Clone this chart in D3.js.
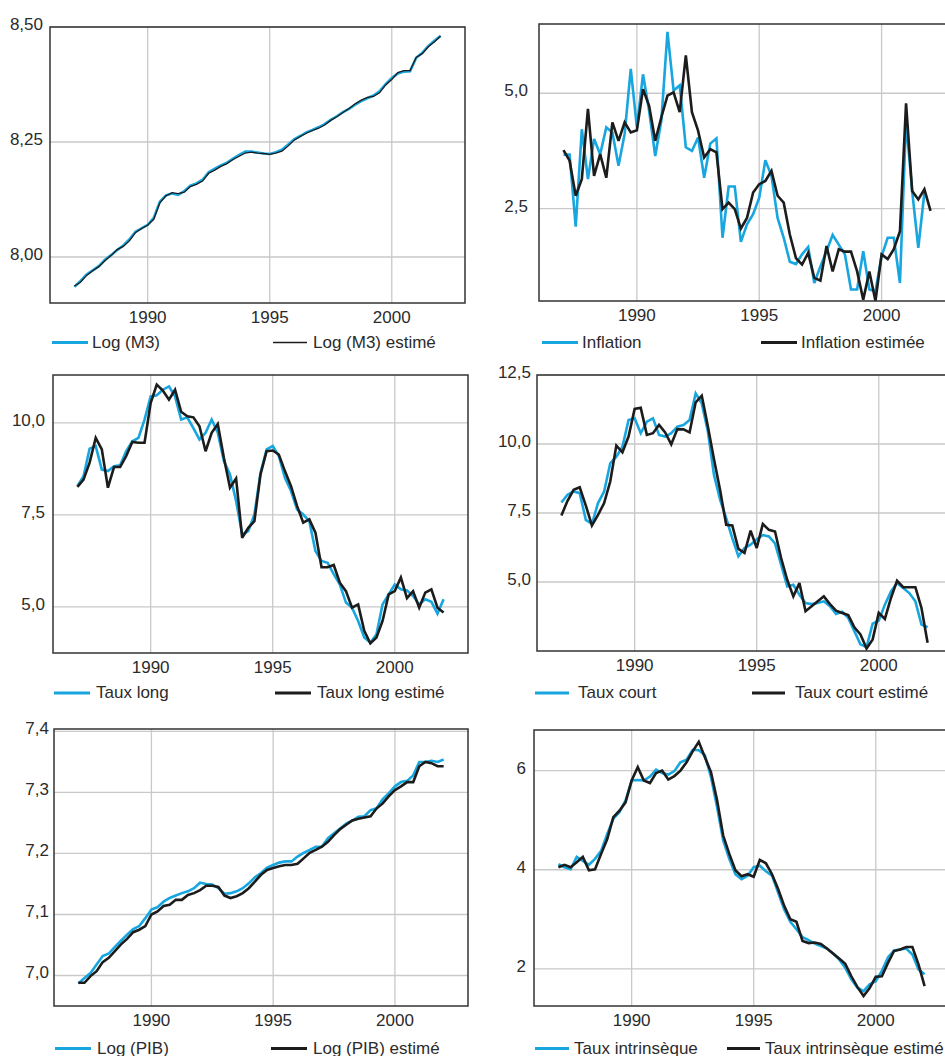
<!DOCTYPE html>
<html>
<head>
<meta charset="utf-8">
<script src="https://cdn.jsdelivr.net/npm/d3@7"></script>
<style>
  html, body { margin: 0; padding: 0; background: #fff; overflow: hidden; }
  text { font-family: "Liberation Sans", Arial, sans-serif; font-size: 17px; fill: #2b2b2b; }
</style>
</head>
<body>
<svg id="chart" width="945" height="1056"></svg>
<script>
// Quarterly observations, 1987 Q1 to 2002 Q1
const quarters = d3.range(61).map(i => 1987 + i / 4);
const xTickYears = [1990, 1995, 2000];

// Log (M3)
const m3 = [7.935, 7.948, 7.962, 7.971, 7.980, 7.994, 8.004, 8.015, 8.025, 8.038,
  8.055, 8.062, 8.070, 8.085, 8.120, 8.134, 8.138, 8.135, 8.143, 8.155,
  8.160, 8.168, 8.184, 8.192, 8.199, 8.205, 8.214, 8.222, 8.229, 8.229,
  8.227, 8.225, 8.224, 8.228, 8.233, 8.244, 8.256, 8.263, 8.271, 8.276,
  8.282, 8.289, 8.298, 8.306, 8.315, 8.322, 8.331, 8.339, 8.345, 8.351,
  8.360, 8.376, 8.389, 8.399, 8.403, 8.404, 8.433, 8.444, 8.459, 8.470, 8.481];
const m3Est = [7.937, 7.945, 7.960, 7.970, 7.979, 7.992, 8.003, 8.016, 8.023, 8.035,
  8.053, 8.062, 8.069, 8.082, 8.118, 8.133, 8.140, 8.138, 8.141, 8.153,
  8.158, 8.165, 8.182, 8.189, 8.197, 8.203, 8.212, 8.219, 8.226, 8.228,
  8.226, 8.225, 8.223, 8.226, 8.230, 8.241, 8.254, 8.262, 8.269, 8.275,
  8.280, 8.287, 8.297, 8.305, 8.314, 8.323, 8.333, 8.341, 8.347, 8.349,
  8.357, 8.374, 8.386, 8.401, 8.405, 8.405, 8.434, 8.442, 8.457, 8.468, 8.480];

// Inflation
const inflation = [3.67, 3.67, 2.11, 4.22, 3.14, 4.01, 3.68, 4.26, 4.15, 3.43,
  4.12, 5.53, 4.26, 5.41, 4.62, 3.64, 4.41, 6.33, 5.06, 5.17,
  3.83, 3.75, 4.04, 3.17, 3.91, 4.02, 1.87, 2.98, 2.98, 1.78,
  2.16, 2.38, 2.74, 3.55, 3.21, 2.30, 1.87, 1.35, 1.30, 1.51,
  1.67, 0.89, 1.25, 1.58, 1.93, 1.72, 1.51, 0.75, 0.75, 1.58,
  0.75, 0.71, 1.47, 1.87, 1.87, 0.89, 4.40, 2.88, 1.65, 2.85];
const inflationEst = [3.77, 3.54, 2.78, 3.14, 4.66, 3.21, 3.68, 3.17, 4.37, 3.97,
  4.37, 4.15, 4.20, 5.09, 4.73, 3.97, 4.48, 4.95, 5.02, 4.59,
  5.82, 4.59, 4.19, 3.61, 3.79, 3.72, 2.49, 2.63, 2.49, 2.07,
  2.30, 2.85, 3.03, 3.10, 3.32, 2.78, 2.63, 1.94, 1.43, 1.29,
  1.54, 1.00, 0.94, 1.69, 1.14, 1.62, 1.57, 1.57, 1.14, 0.53,
  1.14, 0.50, 1.51, 1.41, 1.62, 2.01, 4.78, 2.88, 2.70, 2.92, 2.45];

// Taux long
const tauxLong = [8.28, 8.55, 9.30, 9.37, 8.73, 8.69, 8.82, 8.85, 9.23, 9.50,
  9.59, 10.09, 10.72, 10.75, 10.90, 10.99, 10.72, 10.09, 10.15, 9.86,
  9.55, 9.73, 10.09, 9.73, 8.96, 8.60, 7.88, 6.97, 7.06, 7.51,
  8.64, 9.28, 9.37, 9.10, 8.51, 8.15, 7.65, 7.51, 7.33, 6.52,
  6.25, 6.20, 5.89, 5.61, 5.12, 4.98, 4.62, 4.17, 4.03, 4.26,
  5.07, 5.34, 5.61, 5.48, 5.45, 5.30, 5.07, 5.21, 5.14, 4.82, 5.21];
const tauxLongEst = [8.26, 8.46, 8.92, 9.59, 9.28, 8.24, 8.80, 8.80, 9.10, 9.48,
  9.46, 9.46, 10.54, 11.04, 10.88, 10.63, 10.90, 10.30, 10.18, 10.15,
  9.91, 9.23, 9.73, 9.97, 9.05, 8.24, 8.49, 6.88, 7.15, 7.33,
  8.60, 9.23, 9.25, 9.14, 8.69, 8.28, 7.74, 7.29, 7.38, 7.02,
  6.08, 6.08, 6.14, 5.66, 5.43, 4.98, 5.07, 4.35, 4.01, 4.17,
  4.62, 5.34, 5.43, 5.80, 5.24, 5.43, 4.98, 5.39, 5.48, 4.98, 4.85];

// Taux court
const tauxCourt = [7.88, 8.16, 8.28, 8.22, 7.25, 7.10, 7.86, 8.28, 9.30, 9.54,
  9.90, 10.87, 10.93, 10.39, 10.81, 10.93, 10.33, 10.27, 10.39, 10.63,
  10.69, 10.87, 11.83, 11.47, 10.45, 8.88, 7.98, 7.31, 6.59, 5.93,
  6.23, 6.35, 6.55, 6.70, 6.65, 6.40, 5.63, 4.84, 4.90, 4.54,
  4.24, 4.20, 4.24, 4.30, 4.12, 3.84, 3.92, 3.70, 3.22, 2.74,
  2.64, 3.49, 3.60, 4.18, 4.66, 4.96, 4.78, 4.60, 4.30, 3.46, 3.36];
const tauxCourtEst = [7.41, 7.94, 8.34, 8.43, 7.77, 7.05, 7.43, 7.86, 8.64, 9.94,
  9.70, 10.27, 11.27, 11.31, 10.33, 10.39, 10.69, 10.42, 9.99, 10.54,
  10.53, 10.42, 11.51, 11.75, 10.63, 9.45, 8.33, 7.07, 7.05, 6.20,
  6.05, 6.86, 6.23, 7.10, 6.89, 6.83, 5.87, 5.08, 4.48, 4.96,
  3.94, 4.12, 4.30, 4.48, 4.20, 3.96, 3.88, 3.80, 3.36, 3.10,
  2.59, 2.92, 3.88, 3.66, 4.42, 5.05, 4.81, 4.81, 4.81, 4.06, 2.80];

// Log (PIB)
const pib = [6.987, 6.996, 7.004, 7.018, 7.032, 7.036, 7.047, 7.057, 7.067, 7.076,
  7.081, 7.094, 7.108, 7.112, 7.121, 7.127, 7.131, 7.135, 7.138, 7.143,
  7.152, 7.150, 7.149, 7.143, 7.134, 7.135, 7.138, 7.143, 7.151, 7.161,
  7.168, 7.177, 7.181, 7.185, 7.187, 7.187, 7.195, 7.201, 7.206, 7.211,
  7.211, 7.225, 7.233, 7.241, 7.249, 7.254, 7.260, 7.261, 7.271, 7.274,
  7.289, 7.299, 7.310, 7.317, 7.319, 7.328, 7.350, 7.350, 7.352, 7.350, 7.354];
const pibEst = [6.988, 6.988, 6.999, 7.007, 7.022, 7.029, 7.040, 7.051, 7.060, 7.071,
  7.075, 7.081, 7.100, 7.105, 7.114, 7.116, 7.124, 7.124, 7.132, 7.135,
  7.140, 7.147, 7.147, 7.145, 7.131, 7.127, 7.130, 7.135, 7.143, 7.154,
  7.165, 7.173, 7.176, 7.179, 7.181, 7.181, 7.183, 7.192, 7.201, 7.206,
  7.211, 7.219, 7.230, 7.240, 7.247, 7.254, 7.257, 7.259, 7.261, 7.274,
  7.282, 7.294, 7.304, 7.310, 7.317, 7.317, 7.343, 7.350, 7.348, 7.343, 7.343];

// Taux intrinsèque
const tauxIntr = [4.11, 4.05, 4.01, 4.26, 4.18, 4.10, 4.22, 4.38, 4.72, 5.03,
  5.16, 5.40, 5.80, 5.81, 5.80, 5.88, 6.02, 5.95, 5.92, 5.99,
  6.17, 6.22, 6.42, 6.41, 6.31, 5.87, 5.26, 4.59, 4.22, 3.91,
  3.81, 3.88, 4.05, 4.08, 3.97, 3.88, 3.54, 3.20, 2.95, 2.80,
  2.64, 2.58, 2.51, 2.46, 2.41, 2.31, 2.19, 2.02, 1.79, 1.62,
  1.55, 1.69, 1.75, 1.96, 2.23, 2.37, 2.39, 2.41, 2.29, 1.99, 1.89];
const tauxIntrEst = [4.05, 4.10, 4.05, 4.15, 4.26, 3.99, 4.01, 4.32, 4.62, 5.06,
  5.19, 5.36, 5.80, 6.07, 5.80, 5.75, 5.95, 6.00, 5.82, 5.89,
  6.00, 6.17, 6.39, 6.58, 6.27, 5.97, 5.40, 4.69, 4.32, 3.99,
  3.87, 3.91, 3.86, 4.20, 4.13, 3.91, 3.61, 3.27, 3.00, 2.95,
  2.56, 2.52, 2.53, 2.50, 2.41, 2.31, 2.21, 2.10, 1.85, 1.63,
  1.45, 1.61, 1.84, 1.85, 2.12, 2.36, 2.39, 2.44, 2.44, 2.09, 1.65];

const BLUE = "#17a6df";
const BLACK = "#1c1c1c";

// Panel layout: plot box, axis domains, legend placement
const panels = [
  { series: [m3, m3Est], names: ["Log (M3)", "Log (M3) estimé"],
    y: [7.9, 8.5], yTicks: [8.00, 8.25, 8.50], dec: 2,
    box: { l: 50, t: 27, w: 415, h: 276 }, gap: 7, estW: 1.3,
    legend: { y: 342.5, a: [52, 88, 92], b: [273, 307, 313] }, legW: [3.2, 1.3] },
  { series: [inflation, inflationEst], names: ["Inflation", "Inflation estimée"],
    y: [0.5, 6.5], yTicks: [2.5, 5.0], dec: 1,
    box: { l: 539, t: 24, w: 416, h: 277 }, gap: 11, estW: 2.6,
    legend: { y: 342.5, a: [542, 578, 582], b: [761, 797, 801] }, legW: [3.2, 3.2] },
  { series: [tauxLong, tauxLongEst], names: ["Taux long", "Taux long estimé"],
    y: [3.75, 11.3], yTicks: [5.0, 7.5, 10.0], dec: 1,
    box: { l: 53, t: 375, w: 415, h: 278 }, gap: 8, estW: 2.6,
    legend: { y: 693, a: [54, 90, 96], b: [275, 311, 317] }, legW: [3.2, 3.2] },
  { series: [tauxCourt, tauxCourtEst], names: ["Taux court", "Taux court estimé"],
    y: [2.5, 12.5], yTicks: [5.0, 7.5, 10.0, 12.5], dec: 1,
    box: { l: 537, t: 375, w: 415, h: 276 }, gap: 6, estW: 2.6,
    legend: { y: 693, a: [535, 569, 578], b: [752, 785, 795] }, legW: [3.2, 3.2] },
  { series: [pib, pibEst], names: ["Log (PIB)", "Log (PIB) estimé"],
    y: [6.95, 7.404], yTicks: [7.0, 7.1, 7.2, 7.3, 7.4], dec: 1,
    box: { l: 54, t: 729, w: 414, h: 277 }, gap: 5, estW: 2.6,
    legend: { y: 1048.5, a: [55, 91, 97], b: [271, 307, 313] }, legW: [3.2, 3.2] },
  { series: [tauxIntr, tauxIntrEst], names: ["Taux intrinsèque", "Taux intrinsèque estimé"],
    y: [1.25, 6.82], yTicks: [2, 4, 6], dec: 0,
    box: { l: 534, t: 730, w: 415, h: 276 }, gap: 8, estW: 2.6,
    legend: { y: 1048.5, a: [535, 569, 574], b: [727, 760, 765] }, legW: [3.2, 3.2] }
];

const svg = d3.select("#chart");

panels.forEach((p, k) => {
  const { l, t, w, h } = p.box;
  const x = d3.scaleLinear().domain([1986, 2003]).range([l, l + w]);
  const y = d3.scaleLinear().domain(p.y).range([t + h, t]);
  const g = svg.append("g");
  const fmt = v => d3.format(`.${p.dec}f`)(v).replace(".", ",");

  // Clip region for data lines
  const clipId = `clip-${k}`;
  svg.append("clipPath").attr("id", clipId)
    .append("rect").attr("x", l).attr("y", t).attr("width", w).attr("height", h);

  // Grid
  g.selectAll(".vg").data(xTickYears).join("line")
    .attr("x1", d => x(d)).attr("x2", d => x(d))
    .attr("y1", t).attr("y2", t + h)
    .attr("stroke", "#c9c9c9").attr("stroke-width", 1.3);
  g.selectAll(".hg").data(p.yTicks).join("line")
    .attr("x1", l).attr("x2", l + w)
    .attr("y1", d => y(d)).attr("y2", d => y(d))
    .attr("stroke", "#c9c9c9").attr("stroke-width", 1.3);

  // Series: observed (blue), then estimated (black) on top
  const line = d3.line()
    .defined(d => d[1] != null)
    .x(d => x(d[0])).y(d => y(d[1]));
  const lg = g.append("g").attr("clip-path", `url(#${clipId})`);
  p.series.forEach((s, j) => {
    lg.append("path")
      .datum(s.map((v, i) => [quarters[i], v]))
      .attr("d", line)
      .attr("fill", "none")
      .attr("stroke", j === 0 ? BLUE : BLACK)
      .attr("stroke-width", j === 0 ? 2.6 : p.estW)
      .attr("stroke-linejoin", "miter")
      .attr("stroke-miterlimit", 3);
  });

  // Frame
  g.append("rect").attr("x", l).attr("y", t).attr("width", w).attr("height", h)
    .attr("fill", "none").attr("stroke", "#333").attr("stroke-width", 1.5);

  // Axis labels
  g.selectAll(".xl").data(xTickYears).join("text")
    .attr("x", d => x(d)).attr("y", t + h + 20)
    .attr("text-anchor", "middle").text(d => d);
  g.selectAll(".yl").data(p.yTicks).join("text")
    .attr("x", l - p.gap).attr("y", d => y(d) + 3)
    .attr("text-anchor", "end").text(d => fmt(d));

  // Legend
  [p.legend.a, p.legend.b].forEach((pos, j) => {
    g.append("line")
      .attr("x1", pos[0]).attr("x2", pos[1])
      .attr("y1", p.legend.y).attr("y2", p.legend.y)
      .attr("stroke", j === 0 ? BLUE : BLACK)
      .attr("stroke-width", p.legW[j]);
    g.append("text")
      .attr("x", pos[2]).attr("y", p.legend.y + 5)
      .text(p.names[j]);
  });
});
</script>
</body>
</html>
